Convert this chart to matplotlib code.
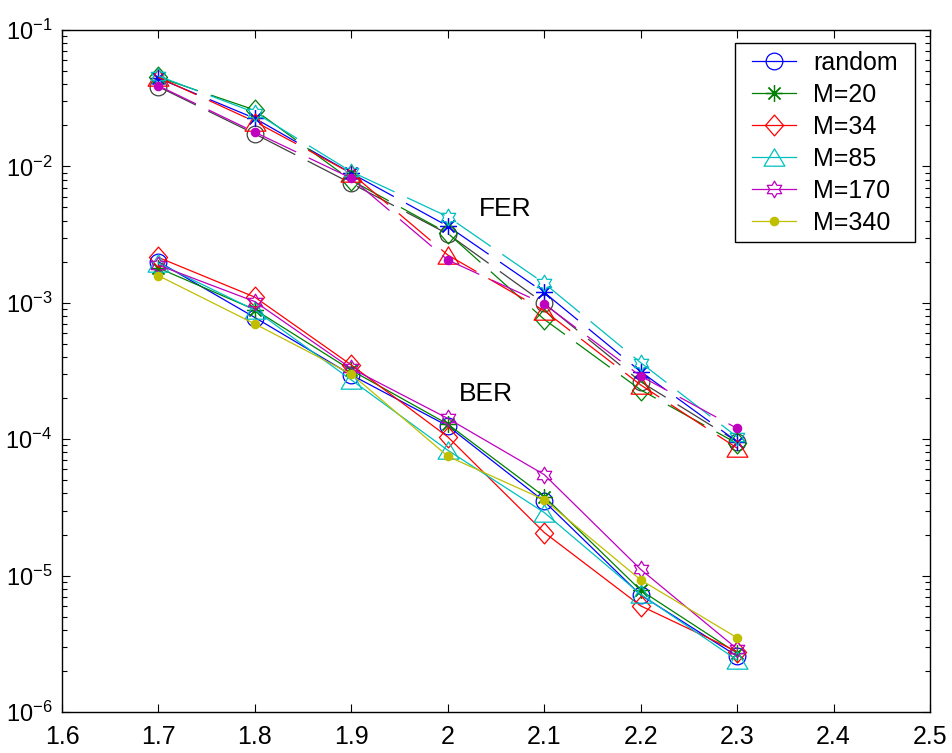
import numpy as np
import matplotlib
matplotlib.use("Agg")
import matplotlib.pyplot as plt
from matplotlib.path import Path
from matplotlib.patches import Rectangle

plt.rcParams['font.family'] = ['Liberation Sans', 'DejaVu Sans']
plt.rcParams['mathtext.default'] = 'regular'
plt.rcParams['axes.unicode_minus'] = False
plt.rcParams['lines.scale_dashes'] = False

snr = [1.7, 1.8, 1.9, 2.0, 2.1, 2.2, 2.3]
labels = ['random', 'M=20', 'M=34', 'M=85', 'M=170', 'M=340']

ber_random = [2.0e-3, 7.8e-4, 2.96e-4, 1.25e-4, 3.5e-5, 7.2e-6, 2.57e-6]
ber_m20 = [1.8e-3, 8.9e-4, 3.2e-4, 1.29e-4, 3.8e-5, 7.8e-6, 2.7e-6]
ber_m34 = [2.15e-3, 1.1e-3, 3.5e-4, 1.04e-4, 2.07e-5, 6.0e-6, 2.77e-6]
ber_m85 = [1.95e-3, 8.85e-4, 2.72e-4, 8.3e-5, 2.9e-5, 7.3e-6, 2.4e-6]
ber_m170 = [1.89e-3, 1.02e-3, 3.3e-4, 1.42e-4, 5.5e-5, 1.11e-5, 2.9e-6]
ber_m340 = [1.58e-3, 7.0e-4, 3.0e-4, 7.5e-5, 3.6e-5, 9.3e-6, 3.5e-6]

fer_random = [3.84e-2, 1.73e-2, 7.5e-3, 3.2e-3, 9.9e-4, 2.64e-4, 9.6e-5]
fer_m20 = [4.43e-2, 2.25e-2, 8.9e-3, 3.65e-3, 1.19e-3, 3.13e-4, 9.6e-5]
fer_m34 = [4.5e-2, 2.59e-2, 7.9e-3, 3.24e-3, 7.56e-4, 2.3e-4, 9.3e-5]
fer_m85 = [4.5e-2, 2.13e-2, 8.9e-3, 2.24e-3, 8.75e-4, 2.5e-4, 8.6e-5]
fer_m170 = [4.6e-2, 2.48e-2, 9.14e-3, 4.28e-3, 1.39e-3, 3.64e-4, 1.04e-4]
fer_m340 = [3.9e-2, 1.78e-2, 8.19e-3, 2.06e-3, 9.8e-4, 2.9e-4, 1.2e-4]

xticks = [1.6, 1.7, 1.8, 1.9, 2.0, 2.1, 2.2, 2.3, 2.4, 2.5]
xticklabels = ['1.6', '1.7', '1.8', '1.9', '2', '2.1', '2.2', '2.3', '2.4', '2.5']

# matlab-ish colour order
c_b = (0, 0, 1)
c_g = (0, 0.5, 0)
c_r = (1, 0, 0)
c_c = (0, 0.75, 0.75)
c_m = (0.75, 0, 0.75)
c_y = (0.75, 0.75, 0)
c_k = (0.25, 0.25, 0.25)

# custom marker shapes
tri = Path([(0, 1), (-1.2, -1), (1.2, -1), (0, 1)], closed=True)
dia = Path([(0, 1), (0.87, 0), (0, -1), (-0.87, 0), (0, 1)], closed=True)
hexa = Path.unit_regular_star(6, 1 / np.sqrt(3))

mk = {
    'o': dict(marker='o', ms=12),
    '*': dict(marker=(8, 2, 0), ms=12),
    'd': dict(marker=dia, ms=15),
    '^': dict(marker=tri, ms=15),
    'h': dict(marker=hexa, ms=12),
    '.': dict(marker='o', ms=6),
}

W, H = 953, 753
fig = plt.figure(figsize=(W / 100, H / 100), dpi=100)
ax = fig.add_axes([62 / W, 1 - 712 / H, 868 / W, 682 / H])

ber = [ber_random, ber_m20, ber_m34, ber_m85, ber_m170, ber_m340]
fer = [fer_random, fer_m20, fer_m34, fer_m85, fer_m170, fer_m340]
shapes = ['o', '*', 'd', '^', 'h', '.']
ber_cols = [c_b, c_g, c_r, c_c, c_m, c_y]
fer_cols = [c_k, c_b, c_g, c_r, c_c, c_m]

handles = []
for vals, s, col, lab in zip(ber, shapes, ber_cols, labels):
    face = col if s == '.' else 'none'
    h, = ax.semilogy(snr, vals, color=col, lw=0.9, mec=col, mfc=face, mew=0.9,
                     label=lab, **mk[s])
    handles.append(h)

for vals, s, col in zip(fer, shapes, fer_cols):
    face = col if s == '.' else 'none'
    ax.semilogy(snr, vals, color=col, lw=0.9, mec=col, mfc=face, mew=0.9,
                dashes=(30, 10), **mk[s])

ax.text(2.06, 4.9e-3, 'FER', fontsize=19, ha='center', va='center')
ax.text(2.04, 2.15e-4, 'BER', fontsize=19, ha='center', va='center')

ax.set_xlim(1.6, 2.5)
ax.set_ylim(1e-6, 1e-1)
ax.set_xticks(xticks)
ax.set_xticklabels(xticklabels)
ax.tick_params(which='both', direction='in', top=True, right=True, width=0.8)
ax.tick_params(which='major', length=6)
ax.tick_params(which='minor', length=3.5)
ax.tick_params(axis='x', pad=9, labelsize=18)
ax.tick_params(axis='y', pad=7, labelsize=17)
for sp in ax.spines.values():
    sp.set_linewidth(1.0)

# legend box drawn separately so the side padding can be wider than the top
box = Rectangle((735 / W, 1 - 242 / H), 180 / W, 199 / H, transform=fig.transFigure,
                facecolor='white', edgecolor='k', lw=1.0, zorder=4.8)
ax.add_patch(box)
leg = ax.legend(handles=handles, loc='upper left', fontsize=18, frameon=False,
                bbox_to_anchor=(752 / W, 1 - 51 / H), bbox_transform=fig.transFigure,
                handlelength=1.75, labelspacing=0.32, borderpad=0,
                borderaxespad=0, handletextpad=0.7)
leg.set_zorder(5)

fig.savefig('out.png', dpi=100)
